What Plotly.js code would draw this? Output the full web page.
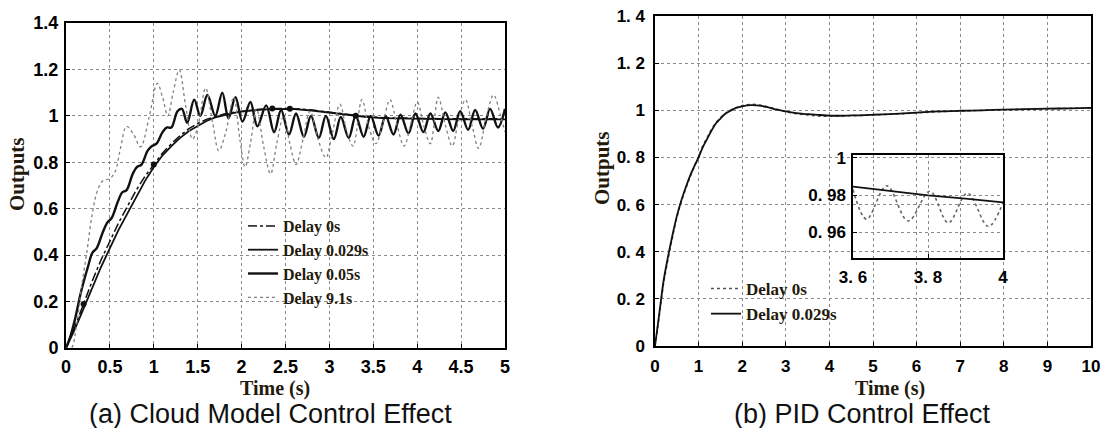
<!DOCTYPE html>
<html><head><meta charset="utf-8">
<script src="https://cdn.plot.ly/plotly-3.0.1.min.js"></script>
<style>html,body{margin:0;padding:0;background:#fff}#chart{width:1105px;height:428px}</style>
</head><body><div id="chart"></div>
<script>
// ---------- Panel (a): Cloud model control ----------
const aTimeSmooth = [0,0.1,0.2,0.3,0.4,0.5,0.6,0.7,0.8,0.9,1.0,1.1,1.2,1.3,1.4,1.5,1.6,1.7,1.8,1.9,2.0,2.2,2.4,2.6,2.8,3.0,3.2,3.4,3.6,3.8,4.0,4.25,4.5,4.75,5.0];
const aDelay0 = [0,0.09,0.19,0.29,0.38,0.46,0.54,0.61,0.68,0.74,0.79,0.84,0.88,0.915,0.945,0.967,0.985,0.998,1.008,1.015,1.02,1.028,1.032,1.031,1.025,1.016,1.006,0.998,0.992,0.99,0.989,0.988,0.988,0.988,0.988];
const aDelay029 = [0,0.08,0.17,0.26,0.35,0.43,0.51,0.58,0.65,0.72,0.78,0.83,0.87,0.905,0.935,0.958,0.978,0.993,1.004,1.012,1.018,1.026,1.03,1.029,1.023,1.014,1.004,0.996,0.99,0.988,0.987,0.986,0.985,0.985,0.985];
const aTime05 = [0,0.05,0.1,0.17,0.25,0.3,0.35,0.42,0.47,0.52,0.59,0.64,0.69,0.76,0.81,0.86,0.93,0.98,1.03,1.1,1.15,1.2,1.27,1.32,1.38,1.46,1.53,1.61,1.7,1.78,1.85,1.93,2.01,2.1,2.18,2.28,2.37,2.45,2.54,2.62,2.71,2.79,2.88,2.96,3.05,3.13,3.22,3.3,3.39,3.47,3.56,3.64,3.73,3.81,3.9,3.98,4.07,4.15,4.24,4.32,4.41,4.49,4.58,4.66,4.75,4.83,4.92,5.0];
const aDelay05 = [0,0.05,0.12,0.24,0.35,0.41,0.43,0.5,0.54,0.56,0.63,0.67,0.68,0.75,0.78,0.79,0.85,0.87,0.88,0.93,0.95,0.95,1.02,1.03,0.97,1.07,1.0,1.09,1.0,1.1,0.99,1.08,0.975,1.06,0.955,1.045,0.93,1.025,0.92,1.01,0.91,1.0,0.905,1.0,0.9,0.995,0.905,1.0,0.91,1.0,0.915,1.0,0.92,1.005,0.925,1.01,0.93,1.01,0.935,1.015,0.935,1.02,0.94,1.025,0.945,1.03,0.95,1.03];
const aTime91 = [0,0.06,0.12,0.18,0.24,0.3,0.36,0.42,0.5,0.56,0.62,0.69,0.77,0.85,0.95,1.04,1.1,1.16,1.22,1.29,1.36,1.44,1.5,1.59,1.67,1.74,1.82,1.91,1.98,2.04,2.1,2.17,2.25,2.33,2.4,2.48,2.55,2.62,2.7,2.78,2.87,2.96,3.03,3.12,3.2,3.27,3.37,3.45,3.53,3.61,3.69,3.77,3.85,3.93,4.0,4.08,4.15,4.24,4.32,4.4,4.47,4.55,4.63,4.7,4.79,4.87,4.95,5.0];
const aDelay91 = [0,0,0.1,0.27,0.42,0.58,0.68,0.72,0.73,0.76,0.86,0.955,0.92,0.866,1.0,1.14,1.08,1.0,1.1,1.198,1.05,0.9,0.95,1.12,0.97,0.85,0.93,1.08,0.9,0.78,0.88,1.03,0.87,0.75,0.88,1.0,0.88,0.79,0.9,1.02,0.9,0.82,0.92,1.05,0.93,0.87,1.07,0.95,0.88,0.97,1.07,0.96,0.87,0.97,1.06,0.95,0.88,1.08,0.96,0.87,0.98,1.07,0.95,0.86,1.0,1.09,1.0,0.93];
const aMarkTime = [0.2,1.0,2.35,2.55,3.3];
const aMarkValue = [0.19,0.79,1.032,1.031,1.0];
const aXTicks = [0,0.5,1,1.5,2,2.5,3,3.5,4,4.5,5];
const aXTickText = ["0","0.5","1","1.5","2","2.5","3","3.5","4","4.5","5"];
const aYTicks = [0,0.2,0.4,0.6,0.8,1,1.2,1.4];
const aYTickText = ["0","0.2","0.4","0.6","0.8","1","1.2","1.4"];

// ---------- Panel (b): PID control ----------
const bTime = [0,0.1,0.2,0.3,0.4,0.5,0.6,0.7,0.8,0.9,1.0,1.1,1.2,1.3,1.4,1.5,1.6,1.7,1.8,1.9,2.0,2.2,2.4,2.6,2.8,3.0,3.2,3.4,3.6,3.8,4.0,4.5,5,5.5,6,6.5,7,7.5,8,8.5,9,9.5,10];
const bDelay0 = [0,0.13,0.27,0.37,0.46,0.545,0.61,0.665,0.715,0.76,0.805,0.85,0.885,0.92,0.948,0.968,0.985,0.997,1.007,1.014,1.02,1.025,1.022,1.014,1.004,0.994,0.987,0.982,0.978,0.975,0.975,0.977,0.98,0.984,0.989,0.994,0.997,1.0,1.002,1.004,1.006,1.008,1.009];
const bDelay029 = [0,0.14,0.28,0.38,0.47,0.55,0.615,0.67,0.72,0.762,0.8,0.845,0.88,0.915,0.945,0.965,0.983,0.995,1.005,1.012,1.017,1.022,1.02,1.012,1.003,0.995,0.989,0.985,0.983,0.98,0.977,0.978,0.981,0.985,0.99,0.995,0.998,1.0,1.003,1.005,1.007,1.008,1.01];
const bXTicks = [0,1,2,3,4,5,6,7,8,9,10];
const bXTickText = ["0","1","2","3","4","5","6","7","8","9","10"];
const bYTicks = [0,0.2,0.4,0.6,0.8,1,1.2,1.4];
const bYTickText = ["0","0. 2","0. 4","0. 6","0. 8","1","1. 2","1. 4"];

// ---------- Inset of (b) ----------
const insetTime0 = [3.6,3.636,3.69,3.747,3.805,3.854,3.905,3.961,4.0];
const insetDelay0 = [0.983,0.967,0.985,0.966,0.982,0.965,0.981,0.963,0.976];
const insetTime029 = [3.6,3.7,3.8,3.9,4.0];
const insetDelay029 = [0.9845,0.982,0.9798,0.978,0.976];
const insetXTicks = [3.6,3.8,4];
const insetXTickText = ["3. 6","3. 8","4"];
const insetYTicks = [0.96,0.98,1];
const insetYTickText = ["0. 96","0. 98","1"];

const W = 1105, H = 428;
const px = v => v / W, py = v => 1 - v / H;
const bold = arr => arr.map(s => "<b>" + s + "</b>");
const sansFam = "Liberation Sans Narrow, Liberation Sans, Arial, sans-serif";
const tickFontA = {family: sansFam, size: 18, color: "#000"};
const tickFontB = {family: sansFam, size: 17, color: "#000"};
const serif = {family: "Liberation Serif, Times New Roman, serif", color: "#231a0c", weight: "bold"};

function axis(extra) {
  return Object.assign({
    showline: true, mirror: true, linecolor: "#000", linewidth: 2,
    showgrid: true, gridcolor: "#8a8a8a", griddash: "dot", gridwidth: 1,
    zeroline: false, ticks: "inside", ticklen: 4, tickcolor: "#000",
    tickmode: "array", fixedrange: true
  }, extra);
}

const traces = [
  {x: aTimeSmooth, y: aDelay0, name: "Delay 0s", mode: "lines", xaxis: "x", yaxis: "y",
   line: {color: "#111", width: 1.5, dash: "dashdot"}, legend: "legend", legendgroup: "a1"},
  {x: aTimeSmooth, y: aDelay029, name: "Delay 0.029s", mode: "lines", xaxis: "x", yaxis: "y",
   line: {color: "#111", width: 1.8}, legend: "legend", legendgroup: "a2"},
  {x: aTime05, y: aDelay05, name: "Delay 0.05s", mode: "lines", xaxis: "x", yaxis: "y",
   line: {color: "#111", width: 2.4, shape: "spline"}, legend: "legend", legendgroup: "a3"},
  {x: aTime91, y: aDelay91, name: "Delay 9.1s", mode: "lines", xaxis: "x", yaxis: "y",
   line: {color: "#808080", width: 1.3, dash: "dot", shape: "spline"}, legend: "legend", legendgroup: "a4"},
  {x: aMarkTime, y: aMarkValue, mode: "markers", xaxis: "x", yaxis: "y", showlegend: false,
   marker: {color: "#111", size: 6}},
  {x: bTime, y: bDelay0, name: "Delay 0s", mode: "lines", xaxis: "x2", yaxis: "y2",
   line: {color: "#555", width: 1.6, dash: "dot", shape: "spline"}, legend: "legend2", legendgroup: "b1"},
  {x: bTime, y: bDelay029, name: "Delay 0.029s", mode: "lines", xaxis: "x2", yaxis: "y2",
   line: {color: "#111", width: 1.8, shape: "spline"}, legend: "legend2", legendgroup: "b2"},
  {x: insetTime0, y: insetDelay0, mode: "lines", xaxis: "x3", yaxis: "y3", showlegend: false,
   line: {color: "#666", width: 1.6, dash: "dot", shape: "spline"}},
  {x: insetTime029, y: insetDelay029, mode: "lines", xaxis: "x3", yaxis: "y3", showlegend: false,
   line: {color: "#111", width: 1.8}}
];

function ann(text, x, y, font, extra) {
  return Object.assign({text: text, x: px(x), y: py(y), xref: "paper", yref: "paper",
    xanchor: "center", yanchor: "middle", showarrow: false, font: font}, extra || {});
}
const capFont = {family: "Liberation Sans, Arial, sans-serif", size: 27, color: "#111"};

const layout = {
  width: W, height: H, margin: {l: 0, r: 0, t: 0, b: 0},
  paper_bgcolor: "#fff", plot_bgcolor: "rgba(0,0,0,0)", showlegend: true,
  xaxis: axis({domain: [px(66), px(505)], range: [0, 5], anchor: "y",
    tickvals: aXTicks, ticktext: bold(aXTickText), tickfont: tickFontA, ticklabelstandoff: 1}),
  yaxis: axis({domain: [py(348), py(23)], range: [0, 1.4], anchor: "x",
    tickvals: aYTicks, ticktext: bold(aYTickText), tickfont: tickFontA, ticklabelstandoff: 2}),
  xaxis2: axis({domain: [px(655), px(1091)], range: [0, 10], anchor: "y2", linewidth: 1.6,
    tickvals: bXTicks, ticktext: bold(bXTickText), tickfont: tickFontB, ticklabelstandoff: 4}),
  yaxis2: axis({domain: [py(346), py(16)], range: [0, 1.4], anchor: "x2", linewidth: 1.6,
    tickvals: bYTicks, ticktext: bold(bYTickText), tickfont: tickFontB, ticklabelstandoff: 5}),
  xaxis3: axis({domain: [px(853), px(1003)], range: [3.6, 4], anchor: "y3", linewidth: 1.6,
    tickvals: insetXTicks, ticktext: bold(insetXTickText), tickfont: tickFontB, ticklabelstandoff: 3}),
  yaxis3: axis({domain: [py(258), py(155)], range: [0.946, 1.0016], anchor: "x3", linewidth: 1.6,
    tickvals: insetYTicks, ticktext: bold(insetYTickText), tickfont: tickFontB, ticklabelstandoff: 2}),
  legend: {x: px(243), y: py(209), xanchor: "left", yanchor: "top", bgcolor: "rgba(0,0,0,0)",
    borderwidth: 0, tracegroupgap: 0, font: Object.assign({size: 16}, serif)},
  legend2: {x: px(706), y: py(271), xanchor: "left", yanchor: "top", bgcolor: "rgba(0,0,0,0)",
    borderwidth: 0, tracegroupgap: 0, font: Object.assign({size: 17}, serif)},
  annotations: [
    ann("Outputs", 17, 174, Object.assign({size: 21}, serif), {textangle: -90}),
    ann("Time (s)", 275, 388, Object.assign({size: 20}, serif)),
    ann("(a) Cloud Model Control Effect", 270, 414, capFont),
    ann("Outputs", 602, 168, Object.assign({size: 21}, serif), {textangle: -90}),
    ann("Time (s)", 890, 388, Object.assign({size: 20}, serif)),
    ann("(b) PID Control Effect", 862, 414, capFont)
  ]
};

Plotly.newPlot("chart", traces, layout, {displayModeBar: false, staticPlot: true});
</script></body></html>
